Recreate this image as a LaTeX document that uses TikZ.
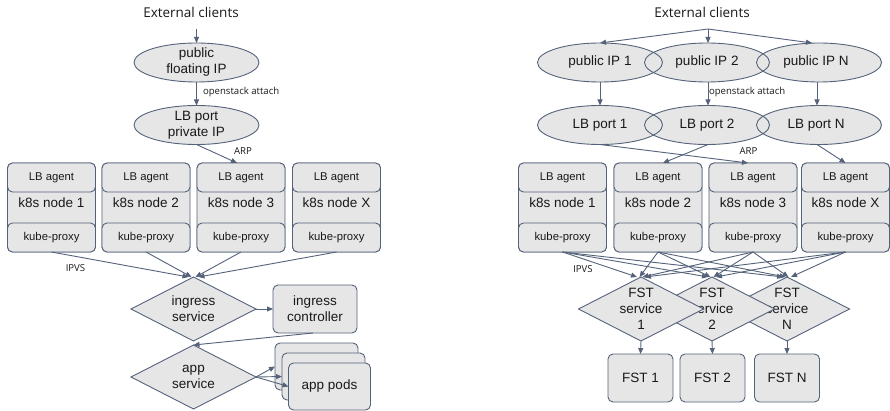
\documentclass[tikz,border=0pt]{standalone}
\usepackage{fontspec}
\setmainfont{Liberation Sans}
\newfontfamily\osans{Open Sans}
\usetikzlibrary{arrows.meta,shapes.geometric}
\definecolor{lc}{RGB}{84,98,122}
\definecolor{fc}{RGB}{230,230,230}
\definecolor{tc}{RGB}{25,25,25}
\begin{document}
\begin{tikzpicture}[x=1pt,y=-1pt,
  every node/.style={text=tc, inner sep=0pt, outer sep=0pt},
  big/.style={font=\fontsize{13.5}{16}\selectfont, align=center},
  small/.style={font=\fontsize{11.3}{13}\selectfont},
  lbl/.style={font=\osans\fontsize{9.6}{11}\selectfont},
  ttl/.style={font=\osans\fontsize{13.5}{15}\selectfont},
  ellfill/.style={ellipse, fill=fc, minimum width=125pt, minimum height=39pt},
  ellline/.style={ellipse, draw=lc, line width=0.9pt, minimum width=125pt, minimum height=39pt},
  rbox/.style={rectangle, rounded corners=5pt, draw=lc, fill=fc, line width=0.9pt},
  dia/.style={diamond, draw=lc, fill=fc, line width=0.9pt, minimum width=125pt, minimum height=64pt},
  arr/.style={draw=lc, line width=0.9pt, -{Triangle[length=6pt,width=5pt]}},
]
\useasboundingbox (0,0) rectangle (890,411);

% ================= LEFT =================
\node[ttl] (Ltitle) at (191,12.5) {External clients};
\coordinate (Lstart) at (196.5,29);

\node[ellfill] at (196.5,62.5) {};
\node[ellfill] at (196.5,125) {};
\node[ellline, label={[big]center:public\\floating IP}] (Lpip) at (196.5,62.5) {};
\node[ellline, label={[big]center:LB port\\private IP}] (Llp) at (196.5,125) {};

\foreach \i/\x/\t in {1/51.5/1, 2/146/2, 3/241/3, 4/336.5/X}{
  \node[rbox, minimum width=88pt, minimum height=89pt] (Ln\i) at (\x,207.5) {};
  \node[big] (Lnt\i) at (\x,203) {k8s node \t};
  \node[rbox, minimum width=88pt, minimum height=29pt, small] (Llb\i) at (\x,177.5) {LB agent};
  \node[rbox, minimum width=88pt, minimum height=29pt, small] (Lkp\i) at (\x,237.5) {kube-proxy};
}

\node[dia, label={[big]center:ingress\\service}] (Lis) at (193.5,309) {};
\node[rbox, minimum width=84pt, minimum height=48pt, big] (Lic) at (315,309) {ingress\\controller};
\node[dia, label={[big]center:app\\service}] (Las) at (193.5,377) {};
\node[rbox, minimum width=83pt, minimum height=47pt] (Lap1) at (316.5,366.5) {};
\node[rbox, minimum width=83pt, minimum height=47pt] (Lap2) at (323.5,376.5) {};
\node[rbox, minimum width=82pt, minimum height=47pt, big] (Lap3) at (329.5,386.5) {app pods};

\draw[arr] (Lstart) -- (Lpip.north);
\draw[arr] (Lpip.south) -- (Llp.north);
\node[lbl, anchor=west] (Loa) at (203,92.5) {openstack attach};
\draw[arr] (Llp.south) -- ([xshift=-4pt]Llb3.north);
\node[lbl] (Larp) at (243,151.5) {ARP};
\draw[arr] (Lkp1.south) -- ([xshift=-5pt]Lis.north);
\draw[arr] (Lkp2.south) -- ([xshift=-2pt]Lis.north);
\draw[arr] (Lkp3.south) -- ([xshift=2pt]Lis.north);
\draw[arr] (Lkp4.south) -- ([xshift=5pt]Lis.north);
\node[lbl] (Lipvs) at (75.5,268.5) {IPVS};
\draw[arr] (Lis.east) -- (Lic.west);
\draw[arr] ([xshift=-2pt]Lic.south) -- (Las.north);
\draw[arr] (Las.east) -- (Lap1.west);
\draw[arr] (Las.east) -- (Lap2.west);
\draw[arr] (Las.east) -- (Lap3.west);

% ================= RIGHT =================
\node[ttl] (Rtitle) at (702,12.5) {External clients};
\coordinate (Rstart) at (708,29);

\foreach \n/\x in {1/600, 2/707, 3/819}{
  \node[ellfill] at (\x,62.5) {};
  \node[ellfill] at (\x,125) {};
}
\node[ellline, label={[big]center:public IP 1}] (Rpip1) at (600,62.5) {};
\node[ellline, label={[big]center:public IP 2}] (Rpip2) at (707,62.5) {};
\node[ellline, label={[big,xshift=-3pt]center:public IP N}] (Rpip3) at (819,62.5) {};
\node[ellline, label={[big]center:LB port 1}] (Rlp1) at (600,125) {};
\node[ellline, label={[big]center:LB port 2}] (Rlp2) at (707,125) {};
\node[ellline, label={[big,xshift=-3pt]center:LB port N}] (Rlp3) at (819,125) {};

\foreach \i/\x/\t in {1/562.5/1, 2/658/2, 3/753/3, 4/845.5/X}{
  \node[rbox, minimum width=88pt, minimum height=89pt] (Rn\i) at (\x,207.5) {};
  \node[big] (Rnt\i) at (\x,203) {k8s node \t};
  \node[rbox, minimum width=88pt, minimum height=29pt, small] (Rlb\i) at (\x,177.5) {LB agent};
  \node[rbox, minimum width=88pt, minimum height=29pt, small] (Rkp\i) at (\x,237.5) {kube-proxy};
}

\node[dia, label={[big]center:FST\\service\\N}] (Rd3) at (787,309) {};
\node[dia, label={[big]center:FST\\service\\2}] (Rd2) at (712,309) {};
\node[dia, label={[big]center:FST\\service\\1}] (Rd1) at (641,309) {};

\node[rbox, minimum width=65pt, minimum height=48pt, big] (Rf1) at (640.5,378) {FST 1};
\node[rbox, minimum width=65pt, minimum height=48pt, big] (Rf2) at (712.5,378) {FST 2};
\node[rbox, minimum width=65pt, minimum height=48pt, big] (Rf3) at (787,378) {FST N};

\draw[arr] (Rstart) -- (Rpip1.north);
\draw[arr] (Rstart) -- ([xshift=1pt]Rpip2.north);
\draw[arr] (Rstart) -- ([xshift=-7pt]Rpip3.north);
\draw[arr] (Rpip1.south) -- (Rlp1.north);
\draw[arr] ([xshift=1pt]Rpip2.south) -- ([xshift=1pt]Rlp2.north);
\draw[arr] ([xshift=-2pt]Rpip3.south) -- ([xshift=-2pt]Rlp3.north);
\node[lbl, anchor=west] (Roa) at (709,92.5) {openstack attach};
\draw[arr] (Rlp1.south) -- ([xshift=-5pt]Rlb3.north);
\draw[arr] ([xshift=1pt]Rlp2.south) -- ([xshift=5pt]Rlb2.north);
\draw[arr] ([xshift=-2pt]Rlp3.south) -- (Rlb4.north);
\node[lbl] (Rarp) at (748.5,151.5) {ARP};

\foreach \i/\o in {1/-4, 2/-1.5, 3/1.5, 4/4}{
  \foreach \j in {1,2,3}{
    \draw[arr] (Rkp\i.south) -- ([xshift=\o pt]Rd\j.north);
  }
}
\node[lbl] (Ripvs) at (583,269) {IPVS};

\draw[arr] (Rd1.south) -- (Rf1.north);
\draw[arr] (Rd2.south) -- (Rf2.north);
\draw[arr] (Rd3.south) -- (Rf3.north);
\end{tikzpicture}
\end{document}
